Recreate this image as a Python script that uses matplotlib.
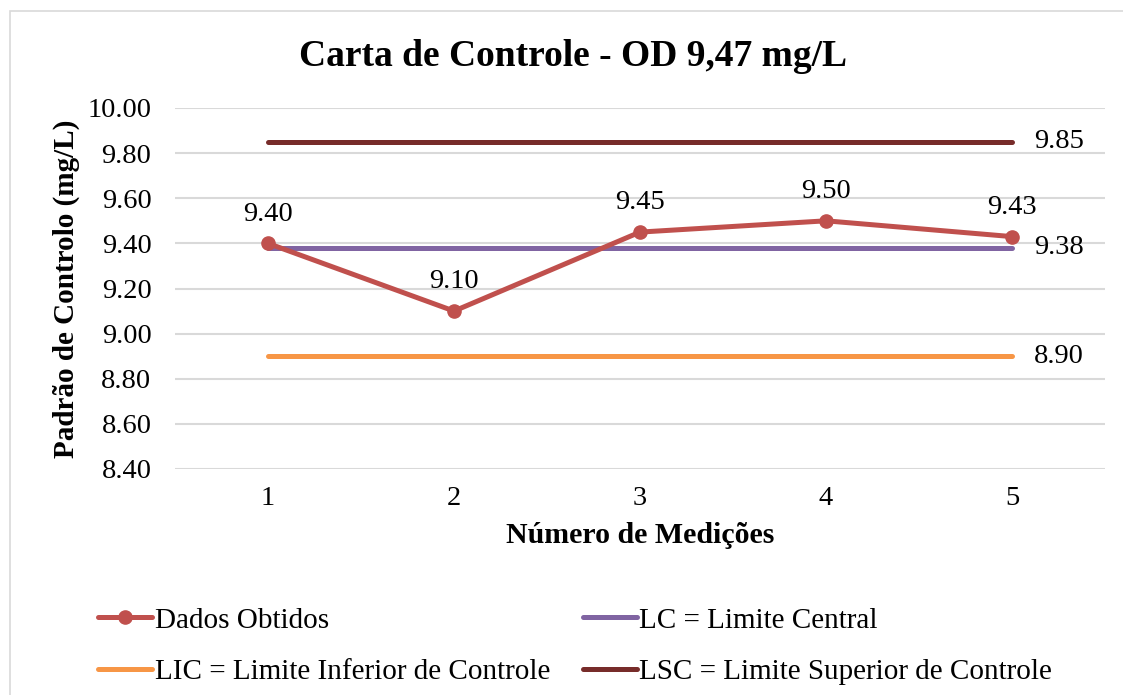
import matplotlib
matplotlib.use("Agg")
import matplotlib.pyplot as plt
from matplotlib.patches import Rectangle

plt.rcParams['font.family'] = ['Liberation Serif', 'DejaVu Serif']

medicoes = [1, 2, 3, 4, 5]
dados = [9.40, 9.10, 9.45, 9.50, 9.43]
lc = [9.38, 9.38, 9.38, 9.38, 9.38]
lic = [8.90, 8.90, 8.90, 8.90, 8.90]
lsc = [9.85, 9.85, 9.85, 9.85, 9.85]
yticks = [8.40, 8.60, 8.80, 9.00, 9.20, 9.40, 9.60, 9.80, 10.00]

c_dados = '#C0504D'
c_lc = '#8064A2'
c_lic = '#F79646'
c_lsc = '#772C2A'

fig = plt.figure(figsize=(11.23, 6.95), dpi=100)
ax = fig.add_axes([175/1123, 1-469/695, (1105-175)/1123, (469-108)/695])

fig.patches.append(Rectangle((10/1123, -0.05), 1.2, 1-11/695+0.05, transform=fig.transFigure,
                             fill=False, edgecolor='#D9D9D9', linewidth=1.2))

lw = 3.6
h_lsc, = ax.plot(medicoes, lsc, color=c_lsc, lw=lw, solid_capstyle='round', zorder=3)
h_lic, = ax.plot(medicoes, lic, color=c_lic, lw=lw, solid_capstyle='round', zorder=3)
h_lc, = ax.plot(medicoes, lc, color=c_lc, lw=lw, solid_capstyle='round', zorder=3)
h_d, = ax.plot(medicoes, dados, color=c_dados, lw=lw, marker='o', markersize=9.5,
               solid_capstyle='round', solid_joinstyle='round', zorder=4)

fs = 20.5
for x, y in zip(medicoes, dados):
    ax.annotate(f'{y:.2f}', (x, y), xytext=(0, 12), textcoords='offset points',
                ha='center', va='bottom', fontsize=fs)
for vals in (lsc, lc, lic):
    ax.annotate(f'{vals[-1]:.2f}', (medicoes[-1], vals[-1]), xytext=(16, 0),
                textcoords='offset points', ha='left', va='center', fontsize=fs)

ax.set_xlim(0.5, 5.5)
ax.set_ylim(8.40, 10.00)
ax.set_yticks(yticks)
ax.set_yticklabels([f'{v:.2f}' for v in yticks], fontsize=fs)
ax.set_xticks(medicoes)
ax.set_xticklabels([str(m) for m in medicoes], fontsize=fs)
ax.tick_params(length=0, pad=17)
ax.tick_params(axis='x', pad=12)
ax.grid(axis='y', color='#D9D9D9', lw=1.5)
ax.set_axisbelow(True)
for s in ax.spines.values():
    s.set_visible(False)

ax.set_xlabel('Número de Medições', fontsize=21.5, fontweight='bold', labelpad=8)
ax.set_ylabel('Padrão de Controlo (mg/L)', fontsize=21, fontweight='bold', labelpad=5)
fig.text(573/1123, 1-56/695, 'Carta de Controle - OD 9,47 mg/L', ha='center', va='center',
         fontsize=27, fontweight='bold')

# row-major order: Dados, LC / LIC, LSC  (matplotlib fills columns first)
handles = [h_d, h_lic, h_lc, h_lsc]
labels = ['Dados Obtidos', 'LIC = Limite Inferior de Controle', 'LC = Limite Central',
          'LSC = Limite Superior de Controle']
fig.legend(handles, labels, ncol=2, loc='center left', bbox_to_anchor=(72/1123, 1-646/695),
           frameon=False, fontsize=21, handlelength=1.85, handletextpad=0.1,
           columnspacing=1.1, labelspacing=0.85)

fig.savefig('out.png', dpi=100)
